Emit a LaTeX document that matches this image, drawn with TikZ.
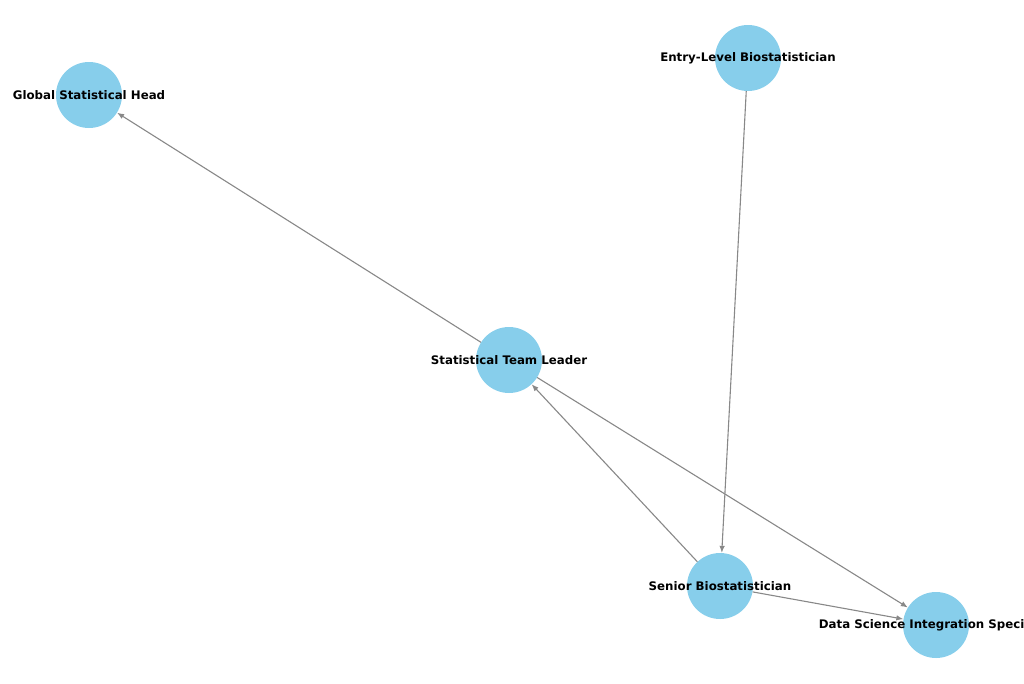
\documentclass[tikz,border=0pt]{standalone}
\usepackage{fontspec}
\setmainfont{DejaVu Sans}
\usetikzlibrary{arrows.meta}

\begin{document}
\begin{tikzpicture}[x=1pt,y=-1pt,
		role/.style={circle,fill=skyblue,minimum size=66pt,inner sep=0pt},
		rolename/.style={font=\fontsize{11.8}{14}\selectfont\bfseries,text=black},
		link/.style={draw=edgegray,line width=1.1pt,-{Latex[length=7pt,width=5.5pt]}}]
		\definecolor{skyblue}{RGB}{135,206,235}
		\definecolor{edgegray}{RGB}{136,136,136}
		\useasboundingbox (0,0) rectangle (1024,683);
		\clip (0,0) rectangle (1024,683);

		% Roles
		\node[role,label={[rolename]center:Global Statistical Head}] (glob) at (89,95) {};
		\node[role,label={[rolename]center:Entry-Level Biostatistician}] (entry) at (748,58) {};
		\node[role,label={[rolename]center:Statistical Team Leader}] (lead) at (509,360) {};
		\node[role,label={[rolename]center:Senior Biostatistician}] (senior) at (720,586) {};
		\node[role,label={[rolename]center:Data Science Integration Specialist}] (dsis) at (936,625) {};

		% Career moves
		\draw[link] (lead) -- (glob);
		\draw[link] (entry) -- (senior);
		\draw[link] (senior) -- (lead);
		\draw[link] (lead) -- (dsis);
		\draw[link] (senior) -- (dsis);
	\end{tikzpicture}
\end{document}
